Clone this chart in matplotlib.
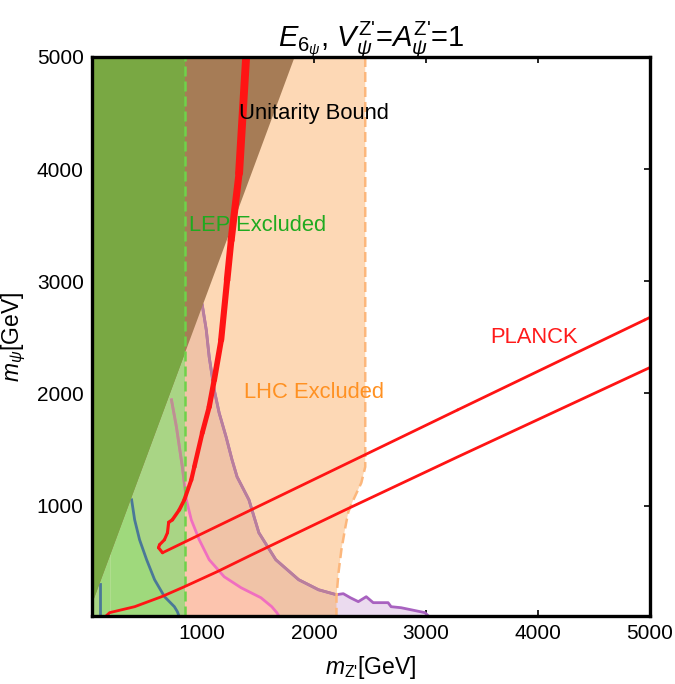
import numpy as np
import matplotlib
matplotlib.use('Agg')
import matplotlib.pyplot as plt
from matplotlib.patches import Polygon, Rectangle
from matplotlib.collections import LineCollection

plt.rcParams['font.family'] = ['Liberation Sans', 'DejaVu Sans']
plt.rcParams['mathtext.fontset'] = 'custom'
plt.rcParams['mathtext.rm'] = 'Liberation Sans'
plt.rcParams['mathtext.it'] = 'Liberation Sans:italic'
plt.rcParams['mathtext.bf'] = 'Liberation Sans:bold'

# ---------------- data (GeV) ----------------
x_ticks = [1000, 2000, 3000, 4000, 5000]
y_ticks = [1000, 2000, 3000, 4000, 5000]

lep_mzp_max = 850          # LEP exclusion edge
lhc_low_edge = 175         # faint left edge of LHC region

lhc_x = [2456, 2456, 2456, 2421, 2350, 2305, 2279, 2243, 2217, 2199, 2199]
lhc_y = [5000, 1586, 1345, 1203, 1051, 944, 811, 606, 401, 187, 15]

unit_x = [20, 1825]
unit_y = [122, 5000]

blue_x = [369, 396, 440, 503, 574, 663, 751, 778, 792]
blue_y = [1051, 873, 695, 517, 339, 187, 98, 53, 15]
blue_left_x = [85, 85]
blue_left_y = [15, 300]

pink_x = [725, 769, 822, 858, 902, 973, 1062, 1196, 1347, 1524, 1621, 1666, 1685]
pink_y = [1942, 1702, 1345, 1051, 873, 695, 517, 365, 267, 178, 98, 45, 15]

purple_x = [1000, 1036, 1062, 1107, 1151, 1213, 1266, 1311, 1417, 1506, 1657, 1861,
            2039, 2198, 2260, 2323, 2394, 2465, 2527, 2660, 2687, 2776, 2989, 3020]
purple_y = [2788, 2566, 2325, 2031, 1826, 1612, 1408, 1256, 1051, 757, 517, 339,
            249, 205, 214, 178, 143, 187, 134, 134, 98, 89, 45, 15]

planck_a_x = [1400, 1392, 1329, 1258, 1222, 1169, 1107, 1062, 1000, 929, 902, 840, 795,
              733, 700, 689, 662, 618, 609, 645, 3282, 4952, 5000]
planck_a_y = [5100, 5000, 3964, 3367, 3011, 2477, 2120, 1880, 1648, 1345, 1229, 1051, 962,
              873, 850, 757, 695, 650, 624, 579, 1853, 2655, 2678]

planck_b_x = [140, 173, 396, 636, 840, 1133, 1440, 2279, 3282, 4952, 5000]
planck_b_y = [15, 45, 98, 187, 276, 410, 560, 962, 1434, 2209, 2231]

# ---------------- figure ----------------
fig = plt.figure(figsize=(6.75, 6.84), dpi=100)
ax = fig.add_axes([92/675, 1-616/684, 558/675, 559/684])
X0, Y0, X1, Y1 = 15, 15, 5000, 5000
ax.set_xlim(X0, X1)
ax.set_ylim(Y0, Y1)

# colours
peach = '#fdd8b5'
tan = '#f0c3a7'
salmon = '#fcc4ae'
lavender = '#ebdbef'
light_green = '#a9d585'
blue_green = '#9fd97c'
brown = '#a67c56'
dark_green = '#79a843'

# LHC region
lhc_poly = [(lhc_low_edge, Y1)] + list(zip(lhc_x, lhc_y)) + [(lhc_low_edge, Y0)]
lhc_patch = Polygon(lhc_poly, closed=True, facecolor=peach, edgecolor='none', zorder=1)
ax.add_patch(lhc_patch)

# purple (direct detection) region
pur_poly = list(zip(purple_x, purple_y)) + [(X0, Y0), (X0, purple_y[0])]
ax.add_patch(Polygon(pur_poly, closed=True, facecolor=lavender, edgecolor='none', zorder=2))
p2 = Polygon(pur_poly, closed=True, facecolor=tan, edgecolor='none', zorder=2.1)
ax.add_patch(p2)
p2.set_clip_path(lhc_patch)

# pink region
pk_poly = list(zip(pink_x, pink_y)) + [(X0, Y0), (X0, pink_y[0])]
p3 = Polygon(pk_poly, closed=True, facecolor=salmon, edgecolor='none', zorder=3)
ax.add_patch(p3)
p3.set_clip_path(lhc_patch)

# LEP region
lep_patch = Rectangle((X0, Y0), lep_mzp_max - X0, Y1 - Y0, facecolor=light_green,
                      edgecolor='none', zorder=4)
ax.add_patch(lep_patch)
bl_poly = [(blue_left_x[0], blue_left_y[0]), (blue_left_x[1], blue_y[0])] + list(zip(blue_x, blue_y))
p4 = Polygon(bl_poly, closed=True, facecolor=blue_green, edgecolor='none', zorder=4.1)
ax.add_patch(p4)

# faint LHC left edge line
ax.plot([lhc_low_edge, lhc_low_edge], [Y0, Y1], color='#c0e2a0', lw=0.8, alpha=0.5, zorder=4.2)

# curves
ax.plot(purple_x, purple_y, color='#a862c0', lw=2.0, zorder=5)
l2, = ax.plot(purple_x, purple_y, color='#b97f9b', lw=2.0, zorder=5.1)
l2.set_clip_path(lhc_patch)
ax.plot(pink_x, pink_y, color='#f06ec0', lw=2.0, zorder=5)
l4, = ax.plot(pink_x, pink_y, color='#bb9290', lw=2.0, zorder=5.1)
l4.set_clip_path(lep_patch)
ax.plot(blue_x, blue_y, color='#4a7898', lw=2.0, zorder=5)
ax.plot(blue_left_x, blue_left_y, color='#4a7898', lw=2.0, zorder=5)

# unitarity region
un_poly = [(X0, unit_y[0]), (unit_x[1], unit_y[1]), (X0, Y1)]
ax.add_patch(Polygon(un_poly, closed=True, facecolor=brown, edgecolor='none', zorder=6))
p6 = Polygon(un_poly, closed=True, facecolor=dark_green, edgecolor='none', zorder=6.1)
ax.add_patch(p6)
p6.set_clip_path(lep_patch)

# boundaries (dashed)
ax.plot([lep_mzp_max, lep_mzp_max], [Y0, Y1], color='#6fd24a', lw=1.8,
        dashes=(4, 2), zorder=7)
ax.plot(lhc_x, lhc_y, color='#fcb77c', lw=1.8, dashes=(4, 2), zorder=7)

# PLANCK contour
pts = np.column_stack([planck_a_x, planck_a_y])
segs = np.stack([pts[:-1], pts[1:]], axis=1)
ymid = 0.5 * (pts[:-1, 1] + pts[1:, 1])
xmid = 0.5 * (pts[:-1, 0] + pts[1:, 0])
widths = np.where(xmid < 1500, 2.2 + 3.8 * np.clip((ymid - 800) / 4200, 0, 1) ** 0.7, 2.0)
lc = LineCollection(segs, linewidths=widths, colors='#ff1414', capstyle='round',
                    joinstyle='round', zorder=8)
ax.add_collection(lc)
ax.plot(planck_b_x, planck_b_y, color='#ff1414', lw=2.0, zorder=8)

# labels
ax.text(1329, 4499, 'Unitarity Bound', color='black', fontsize=15.8, va='center', ha='left', zorder=9)
ax.text(885, 3501, 'LEP Excluded', color='#1faa1f', fontsize=15.8, va='center', ha='left', zorder=9)
ax.text(1373, 2004, 'LHC Excluded', color='#ff9122', fontsize=15.8, va='center', ha='left', zorder=9)
ax.text(3575, 2503, 'PLANCK', color='#ff1a1a', fontsize=15.8, va='center', ha='left', zorder=9)

# axes style
ax.set_xticks(x_ticks)
ax.set_yticks(y_ticks)
ax.tick_params(direction='in', length=4, width=1.2, top=True, right=True,
               labelsize=15, pad=6)
for s in ax.spines.values():
    s.set_linewidth(2.4)
    s.set_zorder(10)

ax.set_xlabel(r"$m_{\mathrm{Z}\text{'}}$[GeV]", fontsize=16.5, labelpad=8)
ax.set_ylabel(r"$m_{\psi}$[GeV]", fontsize=16.5, labelpad=6)
ax.set_title(r"$E_{6_{\psi}}$, $V_{\psi}^{\mathrm{Z}\text{'}}$=$A_{\psi}^{\mathrm{Z}\text{'}}$=1",
             fontsize=21, pad=8)

fig.savefig('out.png', dpi=100)
